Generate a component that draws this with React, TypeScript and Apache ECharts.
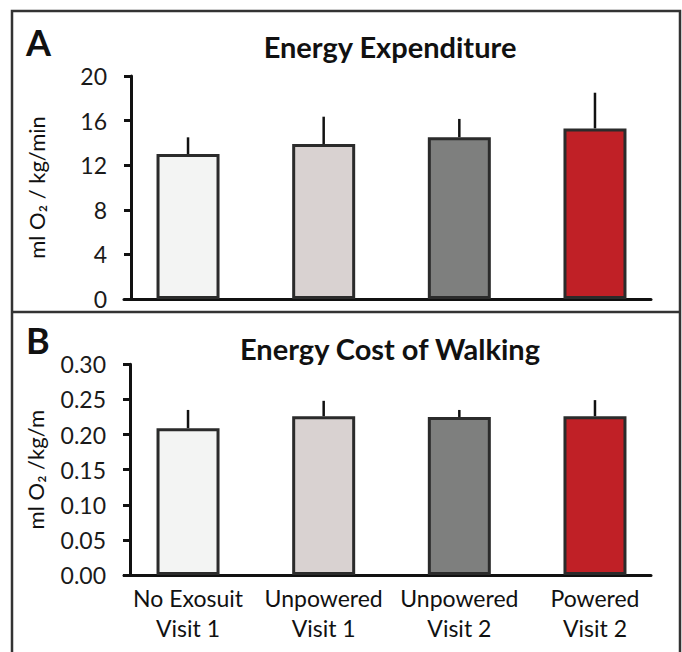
import React, { useEffect, useRef } from "react";
import * as echarts from "echarts";

const categories = ["No Exosuit\nVisit 1", "Unpowered\nVisit 1", "Unpowered\nVisit 2", "Powered\nVisit 2"];
const barColors = ["#f3f4f3", "#d9d2d1", "#7e7f7e", "#c02026"];
const expenditureMean = [13.0, 13.9, 14.5, 15.3];
const expenditureErr = [1.5, 2.45, 1.65, 3.2];
const costMean = [0.209, 0.226, 0.225, 0.226];
const costErr = [0.026, 0.022, 0.010, 0.023];
const expenditureTicks = [0, 4, 8, 12, 16, 20];
const costTicks = [0, 0.05, 0.1, 0.15, 0.2, 0.25, 0.3];

const FONT = "Lato";
const INK = "#111";

function barSeries(idx: number, means: number[]) {
  return {
    type: "bar",
    xAxisIndex: idx,
    yAxisIndex: idx,
    barWidth: 63,
    z: 3,
    itemStyle: { borderColor: "#2b2b2b", borderWidth: 3 },
    data: means.map((v, i) => ({ value: [i, v], itemStyle: { color: barColors[i] } })),
  };
}

function errSeries(idx: number, means: number[], errs: number[]) {
  return {
    type: "custom",
    xAxisIndex: idx,
    yAxisIndex: idx,
    z: 2,
    encode: { x: 0, y: 1 },
    data: means.map((m, i) => [i, m, errs[i]]),
    renderItem: (params: any, api: any) => {
      const x = api.value(0);
      const m = api.value(1);
      const e = api.value(2);
      const p0 = api.coord([x, m]);
      const p1 = api.coord([x, m + e]);
      return {
        type: "line",
        shape: { x1: p0[0], y1: p0[1], x2: p1[0], y2: p1[1] },
        style: { stroke: INK, lineWidth: 2.5 },
      };
    },
  };
}

function xAxis(idx: number, showLabels: boolean) {
  return {
    type: "value",
    gridIndex: idx,
    min: -0.472,
    max: 3.413,
    splitLine: { show: false },
    axisTick: { show: false },
    axisLine: { show: true, onZero: false, lineStyle: { color: INK, width: 3 } },
    axisLabel: showLabels
      ? {
          show: true,
          customValues: [0, 1, 2, 3],
          formatter: (v: number) => categories[Math.round(v)] ?? "",
          fontFamily: FONT,
          fontSize: 23,
          lineHeight: 30,
          color: INK,
          margin: 8,
        }
      : { show: false },
  };
}

function yAxis(idx: number, ticks: number[], name: string, offset: number, fmt: (v: number) => string) {
  return {
    type: "value",
    gridIndex: idx,
    min: ticks[0],
    max: ticks[ticks.length - 1],
    interval: ticks[1] - ticks[0],
    offset,
    splitLine: { show: false },
    axisLine: { show: true, onZero: false, lineStyle: { color: INK, width: 3 } },
    axisTick: { show: true, length: 7, lineStyle: { color: INK, width: 3 } },
    axisLabel: { fontFamily: FONT, fontSize: 23, color: "#1a1a1a", margin: 24, formatter: fmt },
    name,
    nameLocation: "middle",
    nameGap: 84,
    nameTextStyle: { fontFamily: FONT, fontSize: 22, color: INK },
  };
}

export default function App() {
  const ref = useRef<HTMLDivElement>(null);
  useEffect(() => {
    if (!ref.current) return;
    const chart = echarts.init(ref.current, null, { renderer: "svg" });
    chart.setOption({
      animation: false,
      backgroundColor: "#fff",
      grid: [
        { left: 124, top: 76, width: 527, height: 223 },
        { left: 124, top: 364.3, width: 527, height: 210.7 },
      ],
      xAxis: [xAxis(0, false), xAxis(1, true)],
      yAxis: [
        yAxis(0, expenditureTicks, "ml O\u2082 / kg/min", -7, (v) => String(v)),
        yAxis(1, costTicks, "ml O\u2082 /kg/m", -6, (v) => v.toFixed(2)),
      ],
      series: [
        barSeries(0, expenditureMean),
        errSeries(0, expenditureMean, expenditureErr),
        barSeries(1, costMean),
        errSeries(1, costMean, costErr),
      ],
      graphic: [
        {
          type: "polyline",
          shape: { points: [[12, 660], [12, 11], [680, 11], [680, 660]] },
          style: { stroke: "#333", lineWidth: 2.5, fill: "none" },
        },
        {
          type: "line",
          shape: { x1: 12, y1: 312, x2: 680, y2: 312 },
          style: { stroke: "#333", lineWidth: 2.5 },
        },
        {
          type: "text",
          x: 26,
          y: 42,
          style: { text: "A", font: `bold 36px ${FONT}`, fill: INK, textVerticalAlign: "middle" },
        },
        {
          type: "text",
          x: 26,
          y: 340,
          style: { text: "B", font: `bold 36px ${FONT}`, fill: INK, textVerticalAlign: "middle" },
        },
        {
          type: "text",
          x: 390,
          y: 46,
          style: { text: "Energy Expenditure", font: `bold 29px ${FONT}`, fill: INK, textAlign: "center", textVerticalAlign: "middle" },
        },
        {
          type: "text",
          x: 390,
          y: 348,
          style: { text: "Energy Cost of Walking", font: `bold 29px ${FONT}`, fill: INK, textAlign: "center", textVerticalAlign: "middle" },
        },
      ],
    });
    return () => chart.dispose();
  }, []);
  return <div ref={ref} style={{ position: "absolute", left: 0, top: 0, width: 682, height: 652 }} />;
}
